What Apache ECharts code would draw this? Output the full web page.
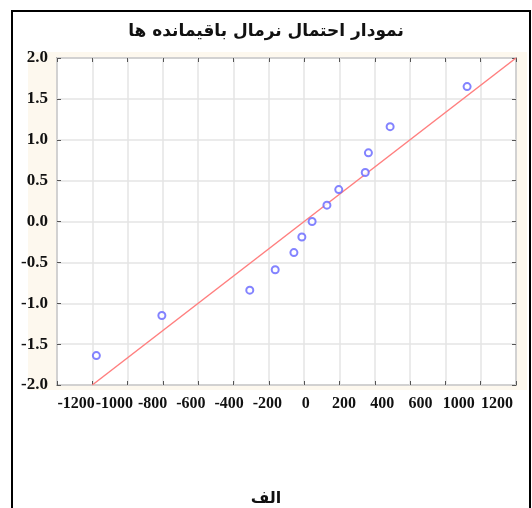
<!DOCTYPE html>
<html>
<head>
<meta charset="utf-8">
<script src="https://cdn.jsdelivr.net/npm/echarts@6/dist/echarts.min.js"></script>
<style>
  html, body { margin: 0; padding: 0; background: #ffffff; }
  #chart { width: 532px; height: 508px; }
</style>
</head>
<body>
<div id="chart"></div>
<script>
// ---- data ----
const titleText = 'نمودار احتمال نرمال باقیمانده ها';
const captionText = 'الف';
const residuals = [-1177, -806, -308, -164, -58, -13, 45, 129, 196, 346, 364, 487, 923];
const expectedNormal = [-1.64, -1.15, -0.84, -0.59, -0.38, -0.19, 0.0, 0.20, 0.39, 0.60, 0.84, 1.16, 1.65];
const fitX = [-1200, 1200];
const fitY = [-2.0, 2.0];
const xTickLabels = ['-1200', '-1000', '-800', '-600', '-400', '-200', '0', '200', '400', '600', '1000', '1200'];

const chart = echarts.init(document.getElementById('chart'), null, { renderer: 'canvas' });

const labelFont = { fontFamily: 'Liberation Serif', fontWeight: 'bold', color: '#111' };
const tickStyle = { show: true, inside: true, length: 4, lineStyle: { color: '#555', width: 1 } };
const gridLine = { show: true, lineStyle: { color: '#e4e4e4', width: 1.5 } };
const noLine = { show: false, onZero: false };

const option = {
  animation: false,
  title: [
    { text: titleText, left: 'center', top: 18,
      textStyle: { fontFamily: 'DejaVu Sans', fontWeight: 'bold', fontSize: 17, color: '#111' } },
    { text: captionText, left: 'center', top: 486,
      textStyle: { fontFamily: 'DejaVu Sans', fontWeight: 'bold', fontSize: 16, color: '#111' } }
  ],
  graphic: [
    { type: 'rect', z: -20, shape: { x: 12, y: 11, width: 518, height: 520 },
      style: { fill: '#ffffff', stroke: '#000', lineWidth: 2 } },
    { type: 'rect', z: -10, shape: { x: 28, y: 52, width: 499, height: 338 },
      style: { fill: '#fdf8ee', stroke: null } }
  ],
  grid: {
    left: 57, top: 58, width: 459, height: 327,
    show: true, backgroundColor: '#ffffff', borderColor: '#7a7a7a', borderWidth: 1.5,
    containLabel: false
  },
  xAxis: [
    { type: 'value', position: 'bottom', min: -1400, max: 1200, interval: 200,
      axisLine: noLine, axisTick: tickStyle, axisLabel: { show: false }, splitLine: gridLine },
    { type: 'value', position: 'top', min: -1400, max: 1200, interval: 200,
      axisLine: noLine, axisTick: tickStyle, axisLabel: { show: false }, splitLine: { show: false } },
    { type: 'category', position: 'bottom', data: xTickLabels, boundaryGap: true,
      axisLine: noLine, axisTick: { show: false }, splitLine: { show: false },
      axisLabel: Object.assign({ interval: 0, margin: 11, fontSize: 16 }, labelFont) }
  ],
  yAxis: [
    { type: 'value', position: 'left', min: -2, max: 2, interval: 0.5,
      axisLine: noLine, axisTick: tickStyle, splitLine: gridLine,
      axisLabel: Object.assign({ margin: 9, fontSize: 17, formatter: v => v.toFixed(1) }, labelFont) },
    { type: 'value', position: 'right', min: -2, max: 2, interval: 0.5,
      axisLine: noLine, axisTick: tickStyle, axisLabel: { show: false }, splitLine: { show: false } }
  ],
  series: [
    { type: 'line', xAxisIndex: 0, yAxisIndex: 0, data: fitX.map((x, i) => [x, fitY[i]]),
      showSymbol: false, symbol: 'none', lineStyle: { color: '#ff7f7f', width: 1.5 }, z: 2 },
    { type: 'scatter', xAxisIndex: 0, yAxisIndex: 0,
      data: residuals.map((x, i) => [x, expectedNormal[i]]),
      symbol: 'emptyCircle', symbolSize: 7,
      itemStyle: { color: '#6464ff', borderWidth: 1.6 }, z: 3 }
  ]
};
chart.setOption(option);
</script>
</body>
</html>
